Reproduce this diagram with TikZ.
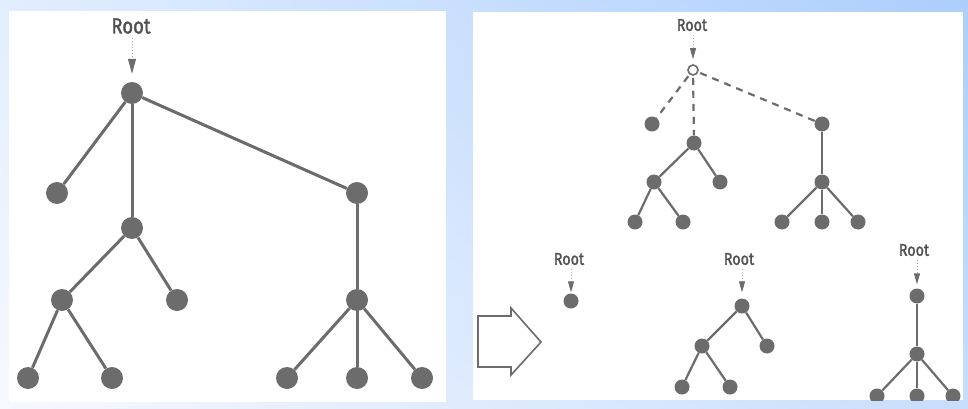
\documentclass[tikz,border=0pt]{standalone}
\usepackage{fontspec}
\newfontfamily\rootfont[FakeStretch=0.84,FakeBold=1.6]{Fira Sans}
\usetikzlibrary{arrows.meta,shadings}
\definecolor{ink}{RGB}{108,108,108}
\definecolor{txt}{RGB}{80,80,80}
\definecolor{dotc}{RGB}{170,170,170}
\definecolor{bgUL}{RGB}{226,238,254}
\definecolor{bgUR}{RGB}{172,206,252}
\definecolor{bgLL}{RGB}{246,249,255}
\definecolor{bgLR}{RGB}{200,222,253}
\begin{document}
\begin{tikzpicture}[x=1pt,y=-1pt,
  big/.style={circle,fill=ink,inner sep=0pt,minimum size=22pt},
  sm/.style={circle,fill=ink,inner sep=0pt,minimum size=15pt},
  hollow/.style={circle,draw=ink,fill=white,line width=1.6pt,inner sep=0pt,minimum size=10pt},
  bigedge/.style={draw=ink,line width=3pt},
  smedge/.style={draw=ink,line width=2.2pt},
  dashedge/.style={draw=ink,line width=2.2pt,dash pattern=on 7pt off 6pt,shorten <=2pt},
  bigroot/.style={font=\rootfont\fontsize{22}{22}\selectfont,text=txt,inner sep=1pt},
  smroot/.style={font=\rootfont\fontsize{17}{17}\selectfont,text=txt,inner sep=1pt},
  bigptr/.style={draw=dotc,line width=1pt,dotted,-{Triangle[width=8pt,length=15pt,color=ink,fill=ink]}},
  smptr/.style={draw=dotc,line width=0.9pt,dotted,-{Triangle[width=6pt,length=11pt,color=ink,fill=ink]}},
  panel/.style={fill=white,draw=none},
  bigarrow/.style={draw=ink,line width=1.6pt,fill=white,line join=miter}
]
\useasboundingbox (0,0) rectangle (968,409);
\shade[upper left=bgUL,upper right=bgUR,lower left=bgLL,lower right=bgLR] (0,0) rectangle (968,409);
\fill[panel] (9,11) rectangle (446,402);
\fill[panel] (473,12) rectangle (963,400);

% ---- left tree ----
\node[bigroot] (L0lbl) at (131,26) {Root};
\node[big] (L0) at (132,93) {};
\node[big] (L1) at (57,193) {};
\node[big] (L2) at (132,228) {};
\node[big] (L3) at (357,193) {};
\node[big] (L21) at (62,300) {};
\node[big] (L22) at (177,300) {};
\node[big] (L211) at (28,378) {};
\node[big] (L212) at (112,378) {};
\node[big] (L31) at (357,300) {};
\node[big] (L311) at (287,378) {};
\node[big] (L312) at (357,378) {};
\node[big] (L313) at (422,378) {};
\draw[bigptr,shorten <=3pt,shorten >=8pt] (L0lbl.south -| L0) -- (L0.north);
\draw[bigedge] (L0) -- (L1);
\draw[bigedge] (L0) -- (L2);
\draw[bigedge] (L0) -- (L3);
\draw[bigedge] (L2) -- (L21);
\draw[bigedge] (L2) -- (L22);
\draw[bigedge] (L21) -- (L211);
\draw[bigedge] (L21) -- (L212);
\draw[bigedge] (L3) -- (L31);
\draw[bigedge] (L31) -- (L311);
\draw[bigedge] (L31) -- (L312);
\draw[bigedge] (L31) -- (L313);

% ---- right top tree ----
\begin{scope}
\clip (473,12) rectangle (963,400);
\node[smroot] (R0lbl) at (692,25) {Root};
\node[hollow] (R0) at (693,70) {};
\node[sm] (R1) at (652,124) {};
\node[sm] (R2) at (694,143) {};
\node[sm] (R3) at (822,124) {};
\node[sm] (R21) at (654,182) {};
\node[sm] (R22) at (720,182) {};
\node[sm] (R211) at (635,222) {};
\node[sm] (R212) at (683,222) {};
\node[sm] (R31) at (822,182) {};
\node[sm] (R311) at (782,222) {};
\node[sm] (R312) at (822,222) {};
\node[sm] (R313) at (858,222) {};
\draw[smptr,shorten <=3pt,shorten >=5pt] (R0lbl.south -| R0) -- (R0.north);
\draw[dashedge] (R0) -- (R1);
\draw[dashedge] (R0) -- (R2);
\draw[dashedge] (R0) -- (R3);
\draw[smedge] (R2) -- (R21);
\draw[smedge] (R2) -- (R22);
\draw[smedge] (R21) -- (R211);
\draw[smedge] (R21) -- (R212);
\draw[smedge] (R3) -- (R31);
\draw[smedge] (R31) -- (R311);
\draw[smedge] (R31) -- (R312);
\draw[smedge] (R31) -- (R313);

% ---- bottom result trees ----
\node[smroot] (A0lbl) at (569,259) {Root};
\node[sm] (A0) at (571,301) {};
\draw[smptr,shorten <=3pt,shorten >=1pt] (A0lbl.south -| A0) -- (A0.north);

\node[smroot] (B0lbl) at (739,259) {Root};
\node[sm] (B0) at (742,306) {};
\node[sm] (B1) at (702,346) {};
\node[sm] (B2) at (767,346) {};
\node[sm] (B11) at (682,387) {};
\node[sm] (B12) at (730,387) {};
\draw[smptr,shorten <=3pt,shorten >=6pt] (B0lbl.south -| B0) -- (B0.north);
\draw[smedge] (B0) -- (B1);
\draw[smedge] (B0) -- (B2);
\draw[smedge] (B1) -- (B11);
\draw[smedge] (B1) -- (B12);

\node[smroot] (C0lbl) at (914,250) {Root};
\node[sm] (C0) at (917,296) {};
\node[sm] (C1) at (917,354) {};
\node[sm] (C11) at (877,396) {};
\node[sm] (C12) at (917,396) {};
\node[sm] (C13) at (953,396) {};
\draw[smptr,shorten <=3pt,shorten >=4pt] (C0lbl.south -| C0) -- (C0.north);
\draw[smedge] (C0) -- (C1);
\draw[smedge] (C1) -- (C11);
\draw[smedge] (C1) -- (C12);
\draw[smedge] (C1) -- (C13);
\end{scope}

% ---- transition arrow ----
\draw[bigarrow] (478,316) -- (511,316) -- (511,308) -- (541,342) -- (511,375) -- (511,367) -- (478,367) -- cycle;
\end{tikzpicture}
\end{document}
